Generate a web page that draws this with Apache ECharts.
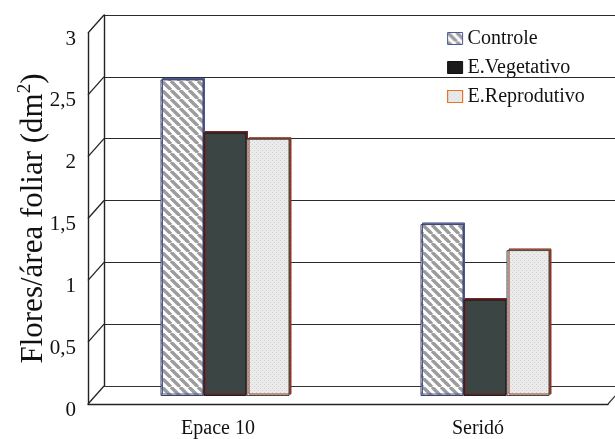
<!DOCTYPE html>
<html>
<head>
<meta charset="utf-8">
<script src="https://cdn.jsdelivr.net/npm/echarts@6/dist/echarts.min.js"></script>
<style>
  html, body { margin: 0; padding: 0; background: #fff; }
  #chart { width: 615px; height: 439px; }
</style>
</head>
<body>
<div id="chart"></div>
<script>
// Flowers per leaf area for two cultivars under three treatments
const categories = ['Epace 10', 'Seridó'];
const seriesNames = ['Controle', 'E.Vegetativo', 'E.Reprodutivo'];
const controle = [2.56, 1.39];
const vegetativo = [2.13, 0.78];
const reprodutivo = [2.08, 1.18];
const yTicks = [0, 0.5, 1, 1.5, 2, 2.5, 3];

const FONT = '"Liberation Serif", "Times New Roman", serif';

// Frame layout: back wall, front axis plane and the bar plane in between
const W = 615, H = 439;
const wall = { left: 104, right: -20, top: 15, bottom: 53 };
const front = { left: 88, right: 7, top: 33, bottom: 35 };
const plane = { left: 95, right: 0, top: 25, bottom: 43 };

function makeStripes() {
  const c = document.createElement('canvas');
  c.width = 9; c.height = 9;
  const g = c.getContext('2d');
  g.fillStyle = '#ffffff';
  g.fillRect(0, 0, 9, 9);
  g.strokeStyle = '#9c9c9c';
  g.lineWidth = 3.4;
  for (const k of [-9, 0, 9]) {
    g.beginPath();
    g.moveTo(k, 0);
    g.lineTo(k + 9, 9);
    g.stroke();
  }
  return c;
}

function makeDots() {
  const c = document.createElement('canvas');
  c.width = 4; c.height = 4;
  const g = c.getContext('2d');
  g.fillStyle = '#ebebeb';
  g.fillRect(0, 0, 4, 4);
  g.fillStyle = '#cfcfcf';
  g.fillRect(0, 0, 1, 1);
  g.fillRect(2, 2, 1, 1);
  return c;
}

const stripeFill = { image: makeStripes(), repeat: 'repeat' };
const dotFill = { image: makeDots(), repeat: 'repeat' };

const chart = echarts.init(document.getElementById('chart'), null, { renderer: 'canvas' });

const yMin = yTicks[0], yMax = yTicks[yTicks.length - 1];
const yStep = yTicks[1] - yTicks[0];

const option = {
  backgroundColor: '#ffffff',
  animation: false,
  textStyle: { fontFamily: FONT },
  legend: {
    orient: 'vertical',
    left: 447,
    top: 28,
    itemWidth: 15,
    itemHeight: 12,
    itemGap: 8,
    icon: 'rect',
    padding: 0,
    textStyle: { fontFamily: FONT, fontSize: 20, color: '#111', lineHeight: 21 },
    data: [
      { name: seriesNames[0], itemStyle: { color: stripeFill, borderColor: '#4a5a9a', borderWidth: 1 } },
      { name: seriesNames[1], itemStyle: { color: '#1b1b1b', borderColor: '#111', borderWidth: 1 } },
      { name: seriesNames[2], itemStyle: { color: dotFill, borderColor: '#e8742c', borderWidth: 1.2 } }
    ]
  },
  grid: [
    Object.assign({ containLabel: false }, wall),
    Object.assign({ containLabel: false }, front),
    Object.assign({ containLabel: false }, plane)
  ],
  xAxis: [
    {
      gridIndex: 0, type: 'category', data: categories,
      axisLine: { show: true, lineStyle: { color: '#333', width: 1.2 } },
      axisTick: { show: false }, axisLabel: { show: false }, splitLine: { show: false }
    },
    {
      gridIndex: 1, type: 'category', data: categories,
      axisLine: { show: true, lineStyle: { color: '#222', width: 1.4 } },
      axisTick: { show: false },
      axisLabel: { fontFamily: FONT, fontSize: 20, color: '#111', margin: 15 },
      splitLine: { show: false }
    },
    {
      gridIndex: 2, type: 'category', data: categories, show: false
    }
  ],
  yAxis: [
    {
      gridIndex: 0, type: 'value', min: yMin, max: yMax, interval: yStep,
      axisLine: { show: true, lineStyle: { color: '#222', width: 1.4 } },
      axisTick: { show: false }, axisLabel: { show: false },
      splitLine: { show: true, lineStyle: { color: '#2a2a2a', width: 1.2 } }
    },
    {
      gridIndex: 1, type: 'value', min: yMin, max: yMax, interval: yStep,
      axisLine: { show: true, lineStyle: { color: '#222', width: 1.4 } },
      axisTick: { show: false },
      splitLine: { show: false },
      axisLabel: {
        fontFamily: FONT, fontSize: 21, color: '#111', margin: 12,
        formatter: v => '{t|' + String(v).replace('.', ',') + '}',
        rich: { t: { fontFamily: FONT, fontSize: 21, color: '#111', padding: [12, 0, 0, 0] } }
      },
      name: 'Flores/área foliar (dm{sup|2})',
      nameLocation: 'middle',
      nameRotate: 90,
      nameGap: 37,
      nameMoveOverlap: false,
      nameTextStyle: {
        fontFamily: FONT, fontSize: 31, color: '#111',
        rich: { sup: { fontFamily: FONT, fontSize: 19, color: '#111', padding: [0, 0, 16, 0] } }
      }
    },
    {
      gridIndex: 2, type: 'value', min: yMin, max: yMax, interval: yStep, show: false,
      splitLine: { show: false }
    }
  ],
  series: [
    {
      name: seriesNames[0], type: 'bar', xAxisIndex: 2, yAxisIndex: 2,
      data: controle, barWidth: 43, barGap: '0%',
      itemStyle: {
        color: stripeFill, borderColor: '#3c4466', borderWidth: 1,
        shadowColor: '#4b5690', shadowOffsetX: 1.5, shadowOffsetY: -1.5, shadowBlur: 0
      }
    },
    {
      name: seriesNames[1], type: 'bar', xAxisIndex: 2, yAxisIndex: 2,
      data: vegetativo, barWidth: 43, barGap: '0%',
      itemStyle: {
        color: '#3b4644', borderColor: '#1e1e1e', borderWidth: 1.2,
        shadowColor: '#7a2228', shadowOffsetX: 1.5, shadowOffsetY: -1.5, shadowBlur: 0
      }
    },
    {
      name: seriesNames[2], type: 'bar', xAxisIndex: 2, yAxisIndex: 2,
      data: reprodutivo, barWidth: 43, barGap: '0%',
      itemStyle: {
        color: dotFill, borderColor: '#4a4a4a', borderWidth: 1,
        shadowColor: '#8a3a24', shadowOffsetX: 2, shadowOffsetY: -1.5, shadowBlur: 0
      }
    }
  ]
};

chart.setOption(option);

// Side-wall edges joining the front axis to the back wall at every tick level
const edges = [];
const frontX = front.left, wallX = wall.left;
yTicks.forEach(v => {
  const fy = chart.convertToPixel({ yAxisIndex: 1 }, v);
  const by = chart.convertToPixel({ yAxisIndex: 0 }, v);
  edges.push({
    type: 'line', silent: true,
    shape: { x1: frontX, y1: fy, x2: wallX, y2: by },
    style: { stroke: '#222', lineWidth: 1.3 }
  });
});
// Floor edge on the right side
const fy0 = chart.convertToPixel({ yAxisIndex: 1 }, yMin);
const by0 = chart.convertToPixel({ yAxisIndex: 0 }, yMin);
const frontRight = W - front.right;
edges.push({
  type: 'line', silent: true,
  shape: { x1: frontRight, y1: fy0, x2: frontRight + (wallX - frontX), y2: by0 },
  style: { stroke: '#333', lineWidth: 1.2 }
});

chart.setOption({ graphic: edges });
</script>
</body>
</html>
